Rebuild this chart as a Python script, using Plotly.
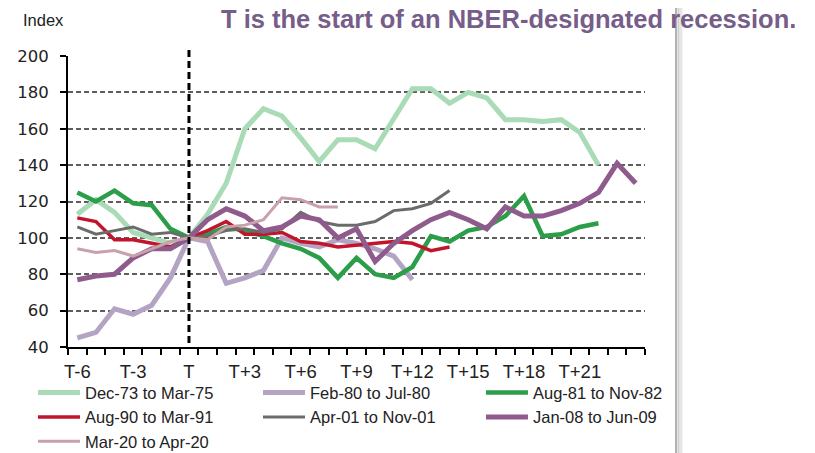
import plotly.graph_objects as go

# months relative to the start of the recession (T = 0)
offsets = list(range(-6, 25))
tick_vals = [-6, -3, 0, 3, 6, 9, 12, 15, 18, 21]
tick_text = ["T-6", "T-3", "T", "T+3", "T+6", "T+9", "T+12", "T+15", "T+18", "T+21"]

N = None
dec73 = [113, 121, 114, 103, 100, 97, 100, 113, 130, 160, 171, 167, 155, 142, 154, 154,
         149, 166, 182, 182, 174, 180, 177, 165, 165, 164, 165, 158, 140, N, N]
feb80 = [45, 48, 61, 58, 63, 78, 100, 98, 75, 78, 82, 100, 97, 95, 99, 97, 94, 90, 77,
         N, N, N, N, N, N, N, N, N, N, N, N]
aug81 = [125, 120, 126, 119, 118, 105, 100, 102, 106, 104, 101, 97, 94, 89, 78, 89, 80,
         78, 84, 101, 98, 104, 106, 112, 123, 101, 102, 106, 108, N, N]
aug90 = [111, 109, 99, 99, 97, 95, 100, 104, 109, 102, 102, 103, 98, 97, 95, 96, 97, 98,
         97, 93, 95, N, N, N, N, N, N, N, N, N, N]
apr01 = [106, 102, 104, 106, 102, 103, 100, 101, 104, 105, 103, 105, 114, 109, 107, 107,
         109, 115, 116, 119, 126, N, N, N, N, N, N, N, N, N, N]
jan08 = [77, 79, 80, 89, 94, 94, 100, 110, 116, 112, 104, 106, 112, 110, 100, 105, 87,
         97, 104, 110, 114, 110, 105, 117, 112, 112, 115, 119, 125, 141, 130]
mar20 = [94, 92, 93, 90, 94, 98, 100, 99, 106, 107, 110, 122, 121, 117, 117,
         N, N, N, N, N, N, N, N, N, N, N, N, N, N, N, N]

# name, values, colour, width, legend column
series = [
    ("Dec-73 to Mar-75", dec73, "#a9dbb6", 5, "legend"),
    ("Feb-80 to Jul-80", feb80, "#b4a4c4", 5, "legend2"),
    ("Aug-81 to Nov-82", aug81, "#2b9e49", 4.5, "legend3"),
    ("Aug-90 to Mar-91", aug90, "#c0152b", 3.5, "legend"),
    ("Apr-01 to Nov-01", apr01, "#6b6b6b", 3, "legend2"),
    ("Jan-08 to Jun-09", jan08, "#8f5b8d", 5, "legend3"),
    ("Mar-20 to Apr-20", mar20, "#c9a1ab", 3, "legend"),
]

fig = go.Figure()
for name, vals, color, width, leg in series:
    fig.add_trace(go.Scatter(x=offsets, y=vals, name=name, mode="lines", legend=leg,
                             line=dict(color=color, width=width)))

# dashed marker at T
fig.add_shape(type="line", xref="x", yref="paper", x0=0, x1=0, y0=0.014, y1=1.033,
              line=dict(color="black", width=3, dash="7px,4px"))

# slide edge on the right
for xp, c, w in [(676, "#b2b2b2", 2), (678.5, "#cdcdcd", 2), (681, "#e6e6e6", 3)]:
    fig.add_shape(type="line", xref="paper", yref="paper",
                  x0=(xp - 68) / 577, x1=(xp - 68) / 577, y0=-0.4, y1=1.25,
                  line=dict(color=c, width=w))

fig.add_annotation(text="Index", xref="paper", yref="paper", x=-0.081, y=1.123,
                   xanchor="left", yanchor="middle", showarrow=False,
                   font=dict(family="Liberation Sans, Arial", size=16.5, color="#222"))
fig.add_annotation(text="<b>T is the start of an NBER-designated recession.</b>",
                   xref="paper", yref="paper", x=0.262, y=1.126,
                   xanchor="left", yanchor="middle", showarrow=False,
                   font=dict(family="Liberation Sans, Arial", size=25.5, color="#765d8a"))

leg_style = dict(xanchor="left", yanchor="top", y=-0.097, itemwidth=42,
                 font=dict(size=16.5, color="#222"), bgcolor="rgba(0,0,0,0)")

# the page body adds an 8px offset, so the figure is 8px smaller than the window
fig.update_layout(
    width=807, height=445,
    margin=dict(l=60, r=170, t=48, b=106, autoexpand=False),
    plot_bgcolor="white", paper_bgcolor="white",
    font=dict(family="Liberation Sans, Arial", color="#222"),
    xaxis=dict(range=[-6.5, 24.5], tickmode="array", tickvals=tick_vals, ticktext=tick_text,
               ticks="", showgrid=False, zeroline=False, automargin=False,
               showline=True, linecolor="black", linewidth=2, ticklabelstandoff=7,
               tickfont=dict(size=18.5, color="#222"),
               minor=dict(tickmode="linear", tick0=-6.5, dtick=1, ticks="outside",
                          ticklen=6, tickwidth=2, tickcolor="black", showgrid=False)),
    yaxis=dict(range=[40, 200], dtick=20, ticks="outside", ticklen=6, tickwidth=2,
               tickcolor="black", showline=True, linecolor="black", linewidth=2,
               zeroline=False, showgrid=True, gridcolor="#5e5e5e", gridwidth=2,
               griddash="5px,3px", automargin=False, ticklabelstandoff=8,
               tickfont=dict(family="DejaVu Sans", size=16.5, color="#222")),
    legend=dict(x=-0.0607, **leg_style),
    legend2=dict(x=0.3293, **leg_style),
    legend3=dict(x=0.7157, **leg_style),
    showlegend=True,
)

fig.write_html("out.html")
